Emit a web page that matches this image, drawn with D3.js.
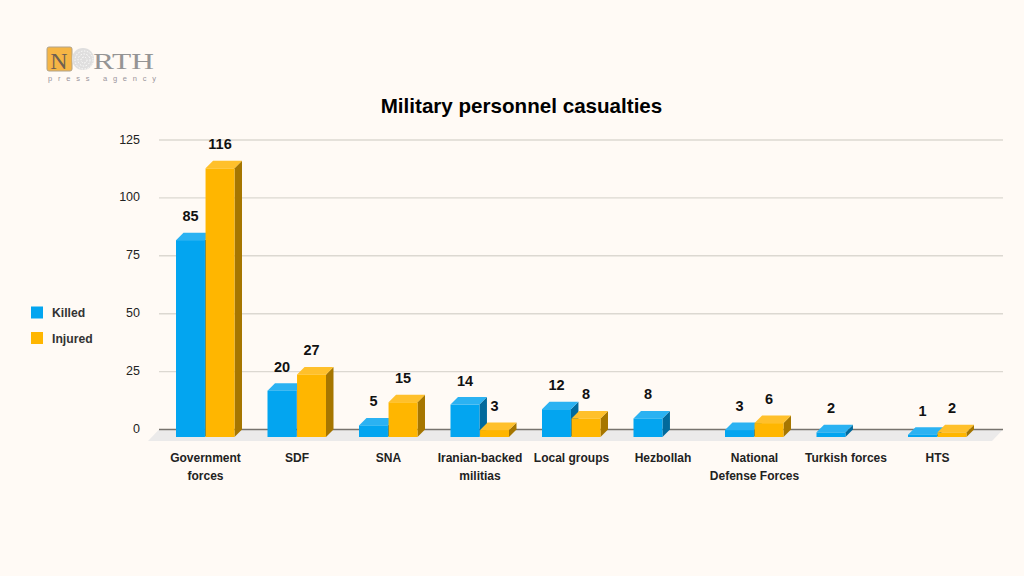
<!DOCTYPE html>
<html><head><meta charset="utf-8">
<script src="https://cdnjs.cloudflare.com/ajax/libs/d3/7.8.5/d3.min.js"></script>
<style>html,body{margin:0;padding:0;background:#fffaf5}svg{display:block}text{font-family:"Liberation Sans",Arial,sans-serif}</style>
</head><body><svg id="c" width="1024" height="576"></svg>
<script>
const categories=[["Government","forces"],["SDF"],["SNA"],["Iranian-backed","militias"],["Local groups"],["Hezbollah"],["National","Defense Forces"],["Turkish forces"],["HTS"]];
const killed=[85,20,5,14,12,8,3,2,1];
const injured=[116,27,15,3,8,null,6,null,2];
const seriesNames=["Killed","Injured"];
const yTicks=[0,25,50,75,100,125];
const colors=[{f:"#03a5f0",t:"#2bb2f2",s:"#026a9c"},{f:"#ffb600",t:"#ffc02b",s:"#a67600"}];

const svg=d3.select("#c");
const depthX=7.5,depthY=7.5;
const y=d3.scaleLinear().domain([0,125]).range([429.5,140]);
const x0=d3.scaleBand().domain(d3.range(categories.length)).range([160,983.5]);
const x1=d3.scaleBand().domain([0,1]).range([16,74.5]).paddingInner(0.02);

// logo
const logo=svg.append("g").attr("opacity",0.9);
logo.append("rect").attr("x",47).attr("y",47).attr("width",25).attr("height",24).attr("rx",2).attr("fill","#f5ae32").attr("stroke","#a89a80").attr("stroke-width",1);
logo.append("text").attr("x",59).attr("y",69).attr("text-anchor","middle").attr("font-size",24).attr("fill","#5f5040").style("font-family","Liberation Serif").text("N");
logo.append("circle").attr("cx",83).attr("cy",59).attr("r",11).attr("fill","#dcdcdc");
[3,6,9].forEach(r=>logo.append("circle").attr("cx",84).attr("cy",60).attr("r",r).attr("fill","none").attr("stroke","#fff").attr("stroke-width",1).attr("stroke-dasharray","1.5 1.5"));
logo.append("text").attr("x",93).attr("y",69).attr("font-size",24).attr("fill","#8a8a8a").attr("textLength",61).attr("lengthAdjust","spacingAndGlyphs").style("font-family","Liberation Serif").text("RTH");
logo.append("text").attr("x",48).attr("y",81).attr("font-size",7.5).attr("fill","#8f8a94").attr("textLength",108).style("font-family","Liberation Sans").text("press agency");

// title
svg.append("text").attr("x",521.5).attr("y",112.5).attr("text-anchor","middle").attr("font-size",20.6).attr("font-weight",700).attr("fill","#000").text("Military personnel casualties");

// floor
const yb=y(0);
svg.append("path").attr("d",`M148,441 L159,${yb} L1003,${yb} L992,441 Z`).attr("fill","#ebeaea");

// grid
svg.append("g").selectAll("line").data(yTicks).join("line")
 .attr("x1",159).attr("x2",1003).attr("y1",d=>y(d)).attr("y2",d=>y(d))
 .attr("stroke",d=>d===0?"#77736e":"#dcd8d1").attr("stroke-width",1.4);

// y axis labels
const yAxis=d3.axisLeft(y).tickValues(yTicks).tickSize(0).tickPadding(0);
const ga=svg.append("g").attr("transform","translate(140,-1)").call(yAxis);
ga.select(".domain").remove();
ga.selectAll("text").attr("font-size",12.5).attr("fill","#222").style("font-family","Liberation Sans");

// bars
[killed,injured].forEach((vals,s)=>{
 const g=svg.append("g");
 const c=colors[s];
 const w=x1.bandwidth();
 const marks=vals.map((v,i)=>({v,i})).filter(d=>d.v!=null);
 const px=d=>x0(d.i)+x1(s);
 const top=d=>y(d.v)+depthY;
 const bot=yb+depthY;
 g.selectAll(".side").data(marks).join("path")
  .attr("d",d=>`M${px(d)+w},${top(d)} L${px(d)+w+depthX},${top(d)-depthY} L${px(d)+w+depthX},${bot-depthY} L${px(d)+w},${bot} Z`).attr("fill",c.s);
 g.selectAll(".top").data(marks).join("path")
  .attr("d",d=>`M${px(d)},${top(d)} L${px(d)+depthX},${top(d)-depthY} L${px(d)+w+depthX},${top(d)-depthY} L${px(d)+w},${top(d)} Z`).attr("fill",c.t);
 g.selectAll(".front").data(marks).join("rect")
  .attr("x",px).attr("y",top).attr("width",w).attr("height",d=>bot-top(d)).attr("fill",c.f);
 g.selectAll(".lab").data(marks).join("text")
  .attr("x",d=>px(d)+w/2).attr("y",d=>y(d.v)-11.5).attr("text-anchor","middle")
  .attr("font-size",14.5).attr("font-weight",700).attr("fill","#111").text(d=>d.v);
});

// category labels
const gl=svg.append("g");
categories.forEach((lines,i)=>{
 const t=gl.append("text").attr("y",462).attr("text-anchor","middle").attr("font-size",12).attr("font-weight",700).attr("fill","#222");
 lines.forEach((l,k)=>t.append("tspan").attr("x",x0(i)+45.5).attr("dy",k?18:0).text(l));
});

// legend
seriesNames.forEach((n,i)=>{
 const yy=[306.5,332][i];
 svg.append("rect").attr("x",31).attr("y",yy).attr("width",12).attr("height",12).attr("fill",colors[i].f);
 svg.append("text").attr("x",52).attr("y",yy+10.5).attr("font-size",12.2).attr("font-weight",700).attr("fill","#333").text(n);
});
</script></body></html>
